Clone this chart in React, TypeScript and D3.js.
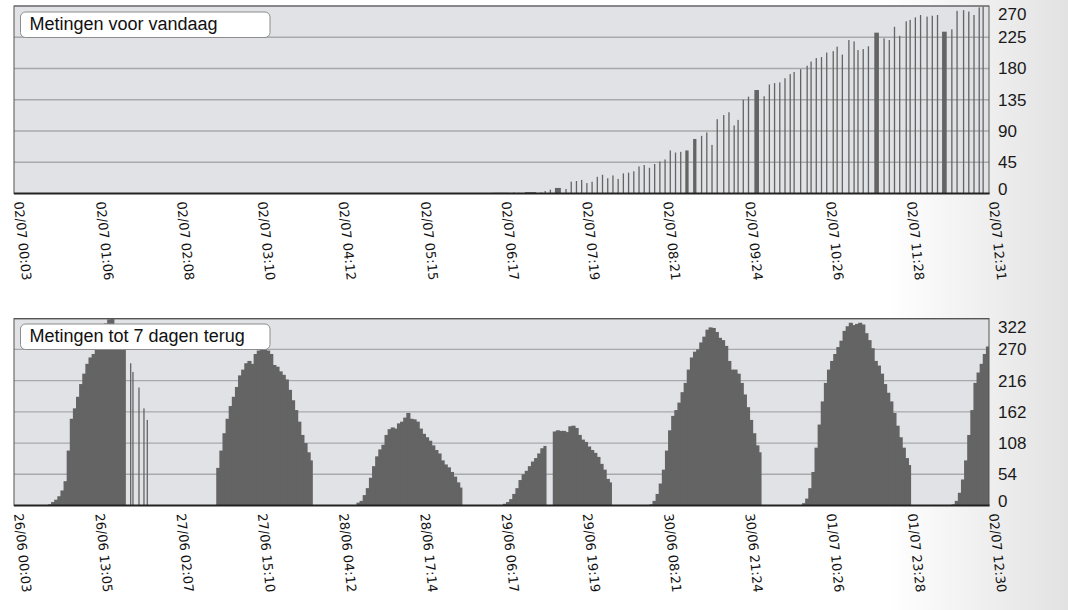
import React from "react";
import * as d3 from "d3";

// ---------- tick labels ----------
const topTickLabels = [
  "02/07 00:03", "02/07 01:06", "02/07 02:08", "02/07 03:10", "02/07 04:12",
  "02/07 05:15", "02/07 06:17", "02/07 07:19", "02/07 08:21", "02/07 09:24",
  "02/07 10:26", "02/07 11:28", "02/07 12:31",
];
const bottomTickLabels = [
  "26/06 00:03", "26/06 13:05", "27/06 02:07", "27/06 15:10", "28/06 04:12",
  "28/06 17:14", "29/06 06:17", "29/06 19:19", "30/06 08:21", "30/06 21:24",
  "01/07 10:26", "01/07 23:28", "02/07 12:30",
];
const topYTicks = [0, 45, 90, 135, 180, 225, 270];
const bottomYTicks = [0, 54, 108, 162, 216, 270, 322];

const topTitle = "Metingen voor vandaag";
const bottomTitle = "Metingen tot 7 dagen terug";

// ---------- today's measurements ----------
const todayTimes = [
  "06:10", "06:26", "06:30", "06:35", "06:47", "06:50", "06:54", "06:58", "07:06", "07:10",
  "07:14", "07:18", "07:22", "07:26", "07:30", "07:34", "07:38", "07:42", "07:46", "07:50",
  "07:54", "07:58", "08:02", "08:06", "08:10", "08:14", "08:18", "08:22", "08:26", "08:30",
  "08:34", "08:38", "08:44", "08:50", "08:54", "08:58", "09:02", "09:07", "09:11", "09:15",
  "09:18", "09:22", "09:26", "09:31", "09:38", "09:42", "09:46", "09:50", "09:54", "09:58",
  "10:01", "10:06", "10:11", "10:14", "10:18", "10:22", "10:26", "10:31", "10:34", "10:38",
  "10:43", "10:47", "10:50", "10:54", "10:58", "11:03", "11:10", "11:14", "11:18", "11:22",
  "11:27", "11:30", "11:34", "11:38", "11:43", "11:47", "11:51", "11:55", "12:02", "12:06",
  "12:11", "12:15", "12:19", "12:23", "12:26",
];
const todayValues = [
  1, 1.5, 1, 2, 1.5, 3.5, 5.5, 8, 6.5, 17,
  18, 19.5, 15, 17, 24, 27, 22, 26, 21, 29,
  30, 32, 39, 41, 37, 42.5, 46, 49, 62, 59,
  60, 62, 78.5, 83, 88, 70, 107, 113, 117, 98,
  106, 135, 139.5, 149, 140, 157, 159, 160, 166, 172,
  175, 179, 184, 190, 195, 196.5, 203, 205, 211.5, 200,
  221, 219, 206.6, 208, 212, 231.6, 223.5, 221, 240, 227,
  248, 250, 253.7, 257, 254.7, 256, 257, 233, 236.4, 263,
  264, 262, 257, 268, 269,
];

// ---------- last 7 days, half-hourly readings ----------
const day26Start = "26/06 05:30";
const day26Values = [2, 6, 10, 16, 26, 42, 95, 150, 168, 188, 210, 228, 245, 256, 262, 272, 285, 296, 315, 322, 324, 305, 300, 296, 292];
const day26LateTimes = ["26/06 18:40", "26/06 19:02", "26/06 20:00", "26/06 20:48", "26/06 21:20"];
const day26LateValues = [246, 231, 204, 168, 148];

const day27Start = "27/06 08:30";
const day27Values = [65, 95, 125, 150, 172, 188, 205, 225, 235, 246, 250, 245, 262, 268, 272, 270, 268, 262, 243, 240, 232, 226, 218, 200, 182, 165, 145, 122, 108, 92, 78];

const day28Start = "28/06 07:00";
const day28Values = [5, 8, 18, 30, 48, 68, 85, 97, 105, 122, 132, 135, 133, 142, 145, 152, 160, 150, 149, 145, 133, 124, 118, 112, 104, 96, 90, 78, 71, 66, 58, 50, 40, 31];

const day29MorningStart = "29/06 06:30";
const day29MorningValues = [3, 6, 11, 20, 30, 44, 54, 60, 68, 76, 82, 90, 99, 103];
const day29AfternoonStart = "29/06 14:30";
const day29AfternoonValues = [128, 130, 129, 129, 127, 137, 138, 134, 122, 114, 110, 102, 96, 91, 84, 72, 62, 46, 40];

const day30Start = "30/06 06:00";
const day30Values = [2, 8, 20, 38, 62, 95, 130, 155, 165, 178, 196, 212, 235, 256, 266, 270, 282, 292, 304, 308, 307, 300, 290, 286, 276, 250, 235, 235, 228, 212, 192, 170, 148, 125, 104, 92];

const day01Start = "01/07 06:30";
const day01Values = [4, 12, 30, 58, 100, 140, 180, 212, 235, 250, 262, 274, 285, 302, 310, 316, 312, 314, 316, 313, 298, 286, 272, 250, 242, 228, 210, 195, 180, 160, 138, 118, 100, 82, 70];

const day02Start = "02/07 06:30";
const day02Values = [2, 8, 22, 45, 78, 122, 165, 212, 230, 245, 262, 275];

// ---------- layout ----------
const W = 1068;
const H = 610;
const plotL = 14;
const plotR = 989;
const topPlot = { y0: 6, y1: 193.5 };
const botPlot = { y0: 318.5, y1: 505.5 };

const parseT = d3.timeParse("%d/%m %H:%M");
const BAR = "#646464";
const BG = "#e1e2e6";
const GRID = "#a9a9ab";

type Seg = { t0: Date; t1: Date; v: number };
function halfHour(start: string, values: number[]): Seg[] {
  const s = parseT(start)!;
  return values.map((v, i) => ({
    t0: d3.timeMinute.offset(s, 30 * i),
    t1: d3.timeMinute.offset(s, 30 * (i + 1)),
    v,
  }));
}

function YLabels({ ticks, y, y0, y1 }: { ticks: number[]; y: d3.ScaleLinear<number, number>; y0: number; y1: number }) {
  return (
    <g>
      {ticks.map((t) => {
        const cy = Math.max(y0 + 8.5, Math.min(y1 - 4, y(t)));
        return (
          <text key={t} x={998} y={cy} dy="0.35em" fontFamily="'Liberation Sans', Arial, sans-serif" fontSize={17} fill="#1a1a1a">
            {t}
          </text>
        );
      })}
    </g>
  );
}

function Frame({ y0, y1, ticks, y }: { y0: number; y1: number; ticks: number[]; y: d3.ScaleLinear<number, number> }) {
  return (
    <g>
      <rect x={plotL} y={y0} width={plotR - plotL} height={y1 - y0} fill={BG} />
      {ticks.slice(1).map((t) => (
        <line key={t} x1={plotL} x2={plotR} y1={y(t)} y2={y(t)} stroke={GRID} strokeWidth={1.3} />
      ))}
    </g>
  );
}

function Border({ y0, y1 }: { y0: number; y1: number }) {
  return (
    <g>
      <rect x={plotL} y={y0} width={plotR - plotL} height={y1 - y0} fill="none" stroke="#555" strokeWidth={1} />
      <line x1={plotL} x2={plotR + 0.5} y1={y1} y2={y1} stroke="#222" strokeWidth={2} />
    </g>
  );
}

function Title({ x, y, text }: { x: number; y: number; text: string }) {
  return (
    <g>
      <rect x={x} y={y} width={249.5} height={25.5} rx={5} ry={5} fill="#fff" stroke="#8c8c8c" strokeWidth={1} />
      <text x={x + 9} y={y + 18.3} fontFamily="'Liberation Sans', Arial, sans-serif" fontSize={18} fill="#111">
        {text}
      </text>
    </g>
  );
}

function XLabels({ labels, x, y }: { labels: string[]; x: (d: Date) => number; y: number }) {
  return (
    <g>
      {labels.map((l) => {
        const px = x(parseT(l)!);
        return (
          <text
            key={l}
            transform={`translate(${px},${y}) rotate(84)`}
            fontFamily="'DejaVu Sans', Verdana, sans-serif"
            fontSize={13}
            fill="#111"
          >
            {l}
          </text>
        );
      })}
    </g>
  );
}

export default function App() {
  // top chart scales
  const xTop = d3
    .scaleTime()
    .domain([parseT(topTickLabels[0])!, parseT(topTickLabels[topTickLabels.length - 1])!])
    .range([plotL, plotR]);
  const yTop = d3.scaleLinear().domain([0, 270]).range([topPlot.y1, topPlot.y0]);

  const todayBars = todayTimes.map((t, i) => ({ t: parseT("02/07 " + t)!, v: todayValues[i] }));
  const todayRects = todayBars.map((b, i) => {
    const x0 = xTop(b.t);
    const next = i < todayBars.length - 1 ? xTop(todayBars[i + 1].t) : x0 + 5;
    const gap = next - x0;
    const w = gap > 7.5 ? gap - 4.5 : 1.3;
    return { x: x0, w, y: yTop(b.v), v: b.v };
  });

  // bottom chart scales
  const xBot = d3
    .scaleTime()
    .domain([parseT(bottomTickLabels[0])!, parseT(bottomTickLabels[bottomTickLabels.length - 1])!])
    .range([plotL, plotR]);
  const yBot = d3.scaleLinear().domain([0, 322]).range([botPlot.y1, botPlot.y0 + 0.8]);

  const segs: Seg[] = [
    ...halfHour(day26Start, day26Values),
    ...halfHour(day27Start, day27Values),
    ...halfHour(day28Start, day28Values),
    ...halfHour(day29MorningStart, day29MorningValues),
    ...halfHour(day29AfternoonStart, day29AfternoonValues),
    ...halfHour(day30Start, day30Values),
    ...halfHour(day01Start, day01Values),
    ...halfHour(day02Start, day02Values),
  ];
  const lateBars = day26LateTimes.map((t, i) => ({ t: parseT(t)!, v: day26LateValues[i] }));

  return (
    <div style={{ position: "absolute", left: 0, top: 0 }}>
      <svg width={W} height={H} viewBox={`0 0 ${W} ${H}`} style={{ display: "block" }}>
        <defs>
          <linearGradient id="pagebg" x1="0" x2="1" y1="0" y2="0">
            <stop offset="0" stopColor="#ffffff" />
            <stop offset="0.83" stopColor="#ffffff" />
            <stop offset="1" stopColor="#e2e2e2" />
          </linearGradient>
        </defs>
        <rect x={0} y={0} width={W} height={H} fill="url(#pagebg)" />

        {/* ---------- top chart ---------- */}
        <Frame y0={topPlot.y0} y1={topPlot.y1} ticks={topYTicks} y={yTop} />
        <g fill={BAR}>
          {todayRects.map((r, i) => (
            <rect key={i} x={r.x} y={r.y} width={r.w} height={topPlot.y1 - r.y} />
          ))}
        </g>
        <Border y0={topPlot.y0} y1={topPlot.y1} />
        <Title x={20.5} y={12} text={topTitle} />
        <YLabels ticks={topYTicks} y={yTop} y0={topPlot.y0} y1={topPlot.y1} />
        <XLabels labels={topTickLabels} x={(d) => xTop(d)} y={202} />

        {/* ---------- bottom chart ---------- */}
        <Frame y0={botPlot.y0} y1={botPlot.y1} ticks={bottomYTicks} y={yBot} />
        <g fill={BAR}>
          {segs.map((s, i) => {
            const x0 = xBot(s.t0);
            const x1 = Math.min(plotR, xBot(s.t1));
            const isLast = i === segs.length - 1 || xBot(segs[i + 1].t0) > x1 + 0.5;
            return (
              <rect
                key={i}
                x={x0}
                y={yBot(s.v)}
                width={x1 - x0 + (isLast ? 0 : 1)}
                height={botPlot.y1 - yBot(s.v)}
              />
            );
          })}
          {lateBars.map((b, i) => (
            <rect key={"l" + i} x={xBot(b.t)} y={yBot(b.v)} width={1.3} height={botPlot.y1 - yBot(b.v)} />
          ))}
        </g>
        <Border y0={botPlot.y0} y1={botPlot.y1} />
        <Title x={20.5} y={324} text={bottomTitle} />
        <YLabels ticks={bottomYTicks} y={yBot} y0={botPlot.y0} y1={botPlot.y1} />
        <XLabels labels={bottomTickLabels} x={(d) => xBot(d)} y={514} />
      </svg>
    </div>
  );
}
